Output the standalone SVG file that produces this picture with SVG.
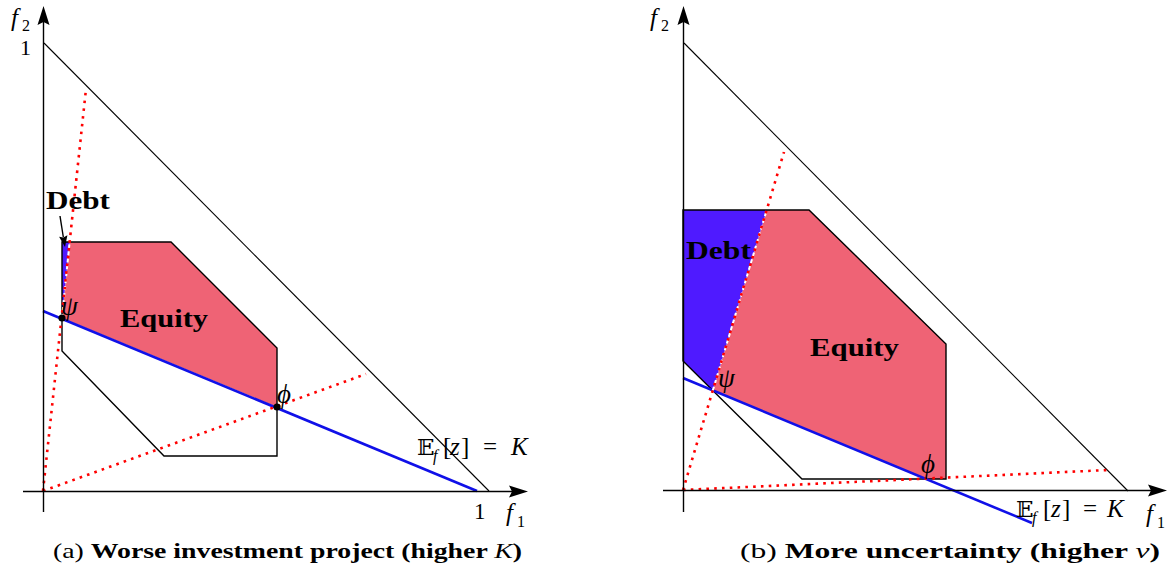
<svg xmlns="http://www.w3.org/2000/svg" width="1172" height="573" viewBox="0 0 1172 573">
<style>
.equity{fill:#ef6375;stroke:none}
.debt{fill:#4f1aff;stroke:none}
.hex{fill:none;stroke:#000;stroke-width:1.4;stroke-linejoin:miter}
.simplex{fill:none;stroke:#000;stroke-width:1.1}
.axis{fill:none;stroke:#000;stroke-width:1.4}
.blue{fill:none;stroke:#1010e8;stroke-width:2.6}
.red{fill:none;stroke:#ff0000;stroke-width:2.6;stroke-dasharray:2.6 5.2}
.white{fill:none;stroke:#fff;stroke-width:2;stroke-dasharray:4 3}
.tip{fill:#000;stroke:none}
.lbl{font-family:"Liberation Serif",serif;font-size:25px;fill:#000}
.sub{font-family:"Liberation Serif",serif;font-size:16px;fill:#000}
.gr{font-family:"Liberation Serif",serif;font-size:27px;font-style:italic;fill:#000}
.it{font-style:italic}
.bold{font-family:"Liberation Serif",serif;font-weight:bold;font-size:25px;fill:#000}
.cap{font-family:"Liberation Serif",serif;font-size:21px;fill:#000}
.bb{font-family:"DejaVu Serif","DejaVu Sans",serif;font-size:23px}
</style>

<!-- Panel (a) -->
<g id="panel-a">
  <g id="a-equity"><polygon class="equity" points="69.6,242 171,242 277,348 277,407 62,318"/></g>
  <g id="a-debt"><polygon class="debt" points="62,242 69.6,242 62,318"/></g>
  <g id="a-hexagon"><polygon class="hex" points="62,242 171,242 277,348 277,456 164,456 62,351"/></g>
  <g id="a-simplex"><line class="simplex" x1="44" y1="43" x2="489" y2="491"/></g>
  <g id="a-connectors">
    <line class="blue" x1="43" y1="311" x2="477" y2="491"/>
    <line class="white" x1="62" y1="318" x2="69.6" y2="242"/>
    <line class="red" x1="43" y1="491" x2="86" y2="89"/>
    <line class="red" x1="43" y1="491" x2="366" y2="374"/>
    <line x1="60" y1="216" x2="63.3" y2="237" stroke="#000" stroke-width="1.4"/>
    <path class="tip" d="M65,247 L67.4,235.3 L63.3,237.5 L59.1,236.8 Z"/>
  </g>
  <g id="a-points">
    <circle cx="62" cy="318" r="3.6" fill="#000"/>
    <circle cx="277" cy="407" r="3.6" fill="#000"/>
  </g>
  <g id="a-axes">
    <line class="axis" x1="43.5" y1="512" x2="43.5" y2="20"/>
    <path class="tip" d="M43.5,6 L49.5,25 L43.5,22 L37.5,25 Z"/>
    <line class="axis" x1="23" y1="491.5" x2="514" y2="491.5"/>
    <path class="tip" d="M528,491.5 L509,497.5 L512,491.5 L509,485.5 Z"/>
  </g>
  <g id="a-labels">
    <text class="lbl it" x="11" y="26">f</text><text class="sub" x="22" y="31">2</text>
    <text class="lbl" x="20" y="55" style="font-size:22px">1</text>
    <text class="lbl" x="474" y="519" style="font-size:23px">1</text>
    <text class="lbl it" x="506" y="521">f</text><text class="sub" x="517" y="527">1</text>
    <text class="gr" x="61" y="315">ψ</text>
    <text class="gr" x="277" y="403">ϕ</text>
    <text class="bb" x="417" y="455">𝔼</text>
    <text class="sub it" x="433" y="461">f</text>
    <text class="lbl" x="443" y="455">[</text>
    <text class="lbl it" x="450" y="455">z</text>
    <text class="lbl" x="461" y="455">]</text>
    <text class="lbl" x="483" y="455">=</text>
    <text class="lbl it" x="511" y="455">K</text>
    <text class="bold" x="46" y="209" textLength="64" lengthAdjust="spacingAndGlyphs">Debt</text>
    <text class="bold" x="120" y="327" textLength="88" lengthAdjust="spacingAndGlyphs">Equity</text>
  </g>
</g>

<!-- Panel (b) -->
<g id="panel-b">
  <g id="b-equity"><polygon class="equity" points="766.7,210 809,210 946,344 946,479 925,479 712.8,390.5"/></g>
  <g id="b-debt"><polygon class="debt" points="683,210 766.7,210 712.8,390.5 683,361"/></g>
  <g id="b-hexagon"><polygon class="hex" points="683,210 809,210 946,344 946,479 802,479 683,361"/></g>
  <g id="b-simplex"><line class="simplex" x1="684" y1="43" x2="1128" y2="491"/></g>
  <g id="b-connectors">
    <line class="blue" x1="683" y1="378" x2="1032" y2="523"/>
    <line class="white" x1="712.8" y1="390.5" x2="766.7" y2="210"/>
    <line class="red" x1="683" y1="490" x2="784" y2="152"/>
    <line class="red" x1="683" y1="490" x2="1108" y2="470"/>
  </g>
  <g id="b-axes">
    <line class="axis" x1="683.5" y1="512" x2="683.5" y2="20"/>
    <path class="tip" d="M683.5,6 L689.5,25 L683.5,22 L677.5,25 Z"/>
    <line class="axis" x1="663" y1="490.5" x2="1153" y2="490.5"/>
    <path class="tip" d="M1167,490.5 L1148,496.5 L1151,490.5 L1148,484.5 Z"/>
  </g>
  <g id="b-labels">
    <text class="lbl it" x="650" y="26">f</text><text class="sub" x="661" y="31">2</text>
    <text class="lbl it" x="1146" y="522">f</text><text class="sub" x="1157" y="528">1</text>
    <text class="gr" x="718" y="387">ψ</text>
    <text class="gr" x="921" y="473">ϕ</text>
    <text class="bb" x="1016" y="517">𝔼</text>
    <text class="sub it" x="1032" y="523">f</text>
    <text class="lbl" x="1043" y="517">[</text>
    <text class="lbl it" x="1051" y="517">z</text>
    <text class="lbl" x="1062" y="517">]</text>
    <text class="lbl" x="1083" y="517">=</text>
    <text class="lbl it" x="1107" y="517">K</text>
    <text class="bold" x="686" y="259" textLength="65" lengthAdjust="spacingAndGlyphs">Debt</text>
    <text class="bold" x="810" y="356" textLength="89" lengthAdjust="spacingAndGlyphs">Equity</text>
  </g>
</g>

<!-- Captions -->
<g id="captions">
  <text class="cap" x="53" y="558" textLength="469" lengthAdjust="spacingAndGlyphs">(a) <tspan font-weight="bold">Worse investment project (higher </tspan><tspan font-style="italic">K</tspan><tspan font-weight="bold">)</tspan></text>
  <text class="cap" x="740" y="558" textLength="420" lengthAdjust="spacingAndGlyphs">(b) <tspan font-weight="bold">More uncertainty (higher </tspan><tspan font-style="italic">ν</tspan><tspan font-weight="bold">)</tspan></text>
</g>
</svg>
